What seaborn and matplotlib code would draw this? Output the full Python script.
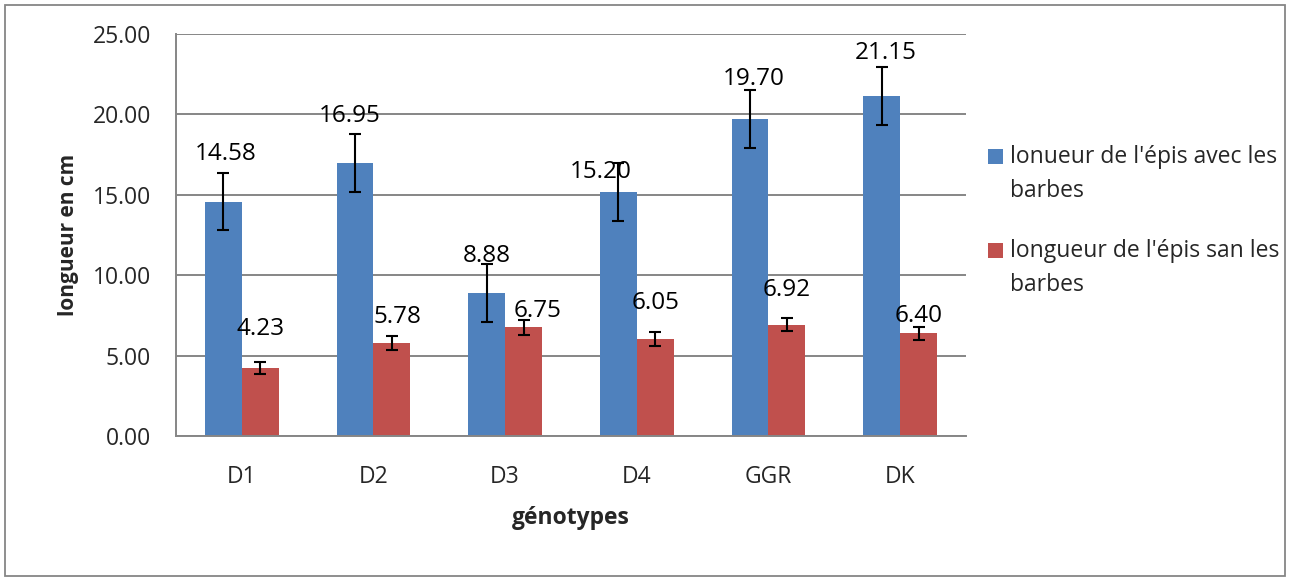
import numpy as np
import pandas as pd
import matplotlib
matplotlib.use('Agg')
import matplotlib.pyplot as plt
import seaborn as sns
from matplotlib.patches import Rectangle
from matplotlib.ticker import FormatStrFormatter, FixedLocator

# données
genotypes = ['D1', 'D2', 'D3', 'D4', 'GGR', 'DK']
serie_avec = "lonueur de l'épis avec les\nbarbes"
serie_san = "longueur de l'épis san les\nbarbes"
avec_barbes = [14.58, 16.95, 8.88, 15.20, 19.70, 21.15]
san_barbes = [4.23, 5.78, 6.75, 6.05, 6.92, 6.40]
err_avec = [1.80, 1.80, 1.80, 1.80, 1.80, 1.80]
err_san = [0.40, 0.42, 0.45, 0.43, 0.42, 0.40]

# décalage des étiquettes (points), déplacées à la main dans le graphique d'origine
off_avec = [(2, 34), (-4, 34), (0, 27), (-13, 14), (3, 29), (3, 31)]
off_san = [(0, 28), (4, 19), (10, 12), (0, 26), (0, 25), (0, 12)]

bleu = '#4F81BD'
rouge = '#C0504D'
gris = '#868686'

df = pd.DataFrame({
    'genotype': genotypes * 2,
    'valeur': avec_barbes + san_barbes,
    'serie': [serie_avec] * 6 + [serie_san] * 6,
})

sns.set_style('white')
plt.rcParams['font.family'] = ['Open Sans', 'DejaVu Sans']

fig = plt.figure(figsize=(12.9, 5.81), dpi=100)
ax = fig.add_axes([0.1364, 0.2496, 0.6124, 0.6919])

sns.barplot(data=df, x='genotype', y='valeur', hue='serie', order=genotypes,
            palette=[bleu, rouge], saturation=1, width=0.56, gap=0, errorbar=None,
            edgecolor='none', linewidth=0, legend=False, ax=ax, zorder=2)

for cont, errs, vals, offs in zip(ax.containers, [err_avec, err_san],
                                  [avec_barbes, san_barbes], [off_avec, off_san]):
    xs = [p.get_x() + p.get_width() / 2 for p in cont.patches]
    hs = [p.get_height() for p in cont.patches]
    ax.errorbar(xs, hs, yerr=errs, fmt='none', ecolor='black', elinewidth=1.5,
                capsize=4.5, capthick=1.5, zorder=3)
    for x, h, v, (dx, dy) in zip(xs, hs, vals, offs):
        ax.annotate(f'{v:.2f}', (x, h), xytext=(dx, dy), textcoords='offset points',
                    ha='center', va='center', fontsize=17.5, color='black', zorder=4)

ax.set_ylim(0, 25)
ax.set_xlim(-0.5, 5.5)
ax.set_yticks(np.arange(0, 25.1, 5))
ax.yaxis.set_major_formatter(FormatStrFormatter('%.2f'))
ax.yaxis.grid(True, color=gris, linewidth=1.4, zorder=0)
ax.set_axisbelow(True)

ax.xaxis.set_minor_locator(FixedLocator(np.arange(-0.5, 6, 1)))
ax.tick_params(axis='x', which='major', length=0, pad=21, labelsize=16.5)
ax.tick_params(axis='x', which='minor', length=7, color=gris, width=1.4, direction='out')
ax.tick_params(axis='y', length=7, color=gris, width=1.4, direction='out', pad=11, labelsize=16.5)

for s in ['top', 'right']:
    ax.spines[s].set_visible(False)
for s in ['left', 'bottom']:
    ax.spines[s].set_color(gris)
    ax.spines[s].set_linewidth(1.4)

ax.set_xlabel('génotypes', fontsize=16.5, fontweight='bold', labelpad=12)
ax.set_ylabel('longueur en cm', fontsize=15, fontweight='bold', labelpad=10)

# légende (carré aligné sur la première ligne du texte)
for i, (nom, coul) in enumerate([(serie_avec, bleu), (serie_san, rouge)]):
    y_haut = 149 + i * 94
    fig.patches.append(Rectangle((988 / 1290, 1 - (y_haut + 15) / 581), 15 / 1290, 15 / 581,
                                 transform=fig.transFigure, facecolor=coul, edgecolor='none'))
    fig.text(1010 / 1290, 1 - (y_haut - 4) / 581, nom, ha='left', va='top',
             fontsize=16.5, linespacing=1.55)

fig.patches.append(Rectangle((5 / 1290, 5 / 581), 1280 / 1290, 571 / 581,
                             transform=fig.transFigure, fill=False,
                             edgecolor=gris, linewidth=1.3))

fig.savefig('out.png', dpi=100)
